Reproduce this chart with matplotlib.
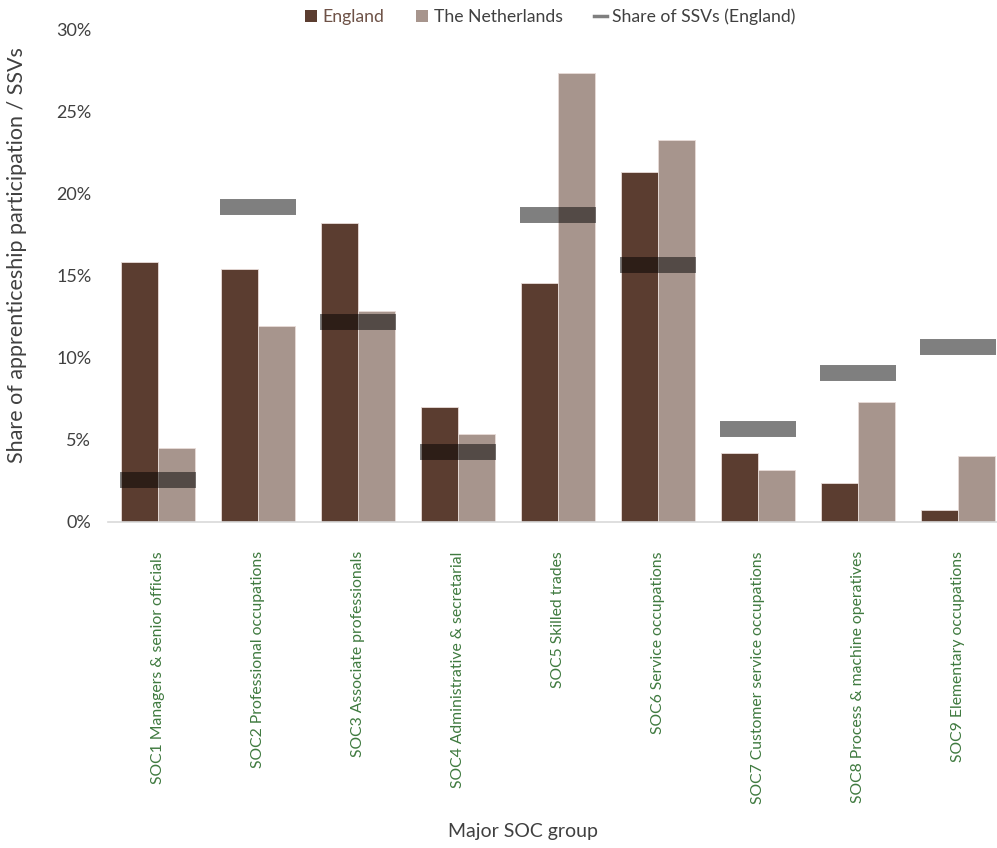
import matplotlib
matplotlib.use("Agg")
import matplotlib.pyplot as plt
import numpy as np
from matplotlib.patches import Patch
from matplotlib.lines import Line2D
from matplotlib.ticker import PercentFormatter

plt.rcParams['font.family'] = ['Lato', 'DejaVu Sans']

categories = [
    "SOC1 Managers & senior officials",
    "SOC2 Professional occupations",
    "SOC3 Associate professionals",
    "SOC4 Administrative & secretarial",
    "SOC5 Skilled trades",
    "SOC6 Service occupations",
    "SOC7 Customer service occupations",
    "SOC8 Process & machine operatives",
    "SOC9 Elementary occupations",
]
england = [15.8, 15.4, 18.2, 7.0, 14.55, 21.3, 4.2, 2.35, 0.73]
netherlands = [4.48, 11.93, 12.87, 5.33, 27.3, 23.26, 3.14, 7.31, 4.03]
ssv_england = [2.55, 19.15, 12.16, 4.26, 18.66, 15.62, 5.65, 9.06, 10.64]
yticks = [0, 5, 10, 15, 20, 25, 30]

c_eng = "#5b3d30"
c_nl = "#a7958d"
c_ssv = (0, 0, 0, 0.5)
green = "#3f7a3f"
grey_text = "#404040"

fig = plt.figure(figsize=(9.97, 8.48), dpi=100)
ax = fig.add_axes([108/997, 1-522/848, 1-108/997, (522-29)/848])

x = np.arange(len(categories))
w = 0.37
ax.bar(x - w/2, england, width=w, color=c_eng, edgecolor="#e8dcd8", linewidth=0.6, zorder=2)
ax.bar(x + w/2, netherlands, width=w, color=c_nl, edgecolor="#e8dcd8", linewidth=0.6, zorder=2)
ax.hlines(ssv_england, x - 0.38, x + 0.38, colors=[c_ssv], linewidth=11.5,
          capstyle='butt', zorder=3)

ax.set_xlim(-0.5, 8.39)
ax.set_ylim(0, 30)
ax.set_yticks(yticks)
ax.yaxis.set_major_formatter(PercentFormatter(decimals=0))
ax.tick_params(axis='y', length=0, labelsize=13, labelcolor=grey_text, pad=12)
ax.set_xticks(x)
ax.set_xticklabels(categories, rotation=90, fontsize=11.3, color=green)
ax.tick_params(axis='x', length=0, pad=21)
for s in ['top', 'right', 'left']:
    ax.spines[s].set_visible(False)
ax.spines['bottom'].set_color("#d9d9d9")
ax.spines['bottom'].set_linewidth(1.2)

fig.text(17/997, 1-255/848, "Share of apprenticeship participation / SSVs",
         rotation=90, ha='center', va='center', fontsize=15.5, color=grey_text)
fig.text(523/997, 1-832/848, "Major SOC group", ha='center', va='center',
         fontsize=14, color=grey_text)

handles = [
    Patch(facecolor=c_eng, edgecolor='none'),
    Patch(facecolor=c_nl, edgecolor='none'),
    Line2D([0], [0], color="#7f7f7f", lw=2.5),
]
labels = ["England", "The Netherlands", "Share of SSVs (England)"]
leg = fig.legend(handles, labels, loc='center', bbox_to_anchor=(550/997, 1-17/848),
                 ncol=3, frameon=False, handlelength=0.7,
                 handleheight=0.7, handletextpad=0.3, columnspacing=1.8,
                 prop={'size': 12.7})
texts = leg.get_texts()
texts[0].set_color("#6e5247")
texts[1].set_color(grey_text)
texts[2].set_color(grey_text)

fig.savefig("out.png", dpi=100)
